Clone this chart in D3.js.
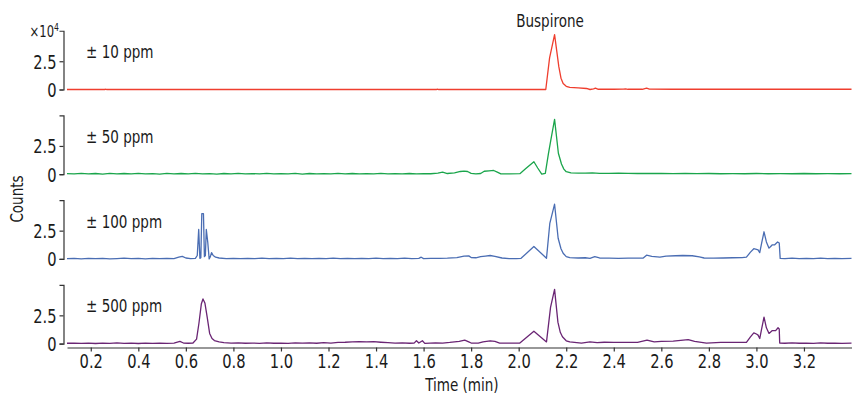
<!DOCTYPE html>
<html>
<head>
<meta charset="utf-8">
<script src="https://cdn.jsdelivr.net/npm/d3@7"></script>
<style>
  body { margin: 0; background: #fff; }
  svg text { font-family: "Liberation Sans Narrow", "DejaVu Sans Condensed", "Roboto", sans-serif; font-stretch: condensed; fill: #1a1a1a; }
  /* squeeze glyphs horizontally to mimic the condensed face of the original */
  svg text.cz { transform-box: fill-box; transform: scaleX(0.86); }
  svg text.cz.start { transform-origin: 0% 50%; }
  svg text.cz.middle { transform-origin: 50% 50%; }
  svg text.cz.end { transform-origin: 100% 50%; }
</style>
</head>
<body>
<svg id="canvas" width="852" height="394"></svg>
<script>
// [time (min), counts x10^4]
const ppm10 = [
  [0.10,0],[0.26,0],[0.262,0.03],[0.266,0],[1.655,0],[1.658,0.03],[1.662,0],[2.114,0],
  [2.13,2.8],[2.151,4.85],[2.169,2.0],[2.178,1.0],[2.187,0.53],[2.20,0.28],[2.215,0.18],
  [2.25,0.14],[2.285,0.09],[2.30,0.0],[2.315,0.06],[2.323,0.12],[2.335,0.02],[2.40,0.02],
  [2.44,0.03],[2.45,0.06],[2.46,0.02],[2.52,0.02],[2.538,0.12],[2.55,0.03],[2.65,0.02],[3.40,0.02]
];

const ppm50 = [
  [0.10,0.05],[0.13,0.02],[0.16,0.08],[0.19,0.03],[0.22,0.06],[0.25,0.01],[0.28,0.07],[0.31,0.03],
  [0.34,0.06],[0.37,0.02],[0.40,0.08],[0.43,0.03],[0.46,0.05],[0.49,0.01],[0.52,0.07],[0.55,0.03],
  [0.58,0.06],[0.61,0.02],[0.64,0.07],[0.67,0.03],[0.70,0.05],[0.73,0.01],[0.76,0.06],[0.79,0.03],
  [0.82,0.07],[0.85,0.02],[0.88,0.05],[0.91,0.03],[0.94,0.08],[0.97,0.02],[1.00,0.05],[1.03,0.03],
  [1.06,0.07],[1.09,0.01],[1.12,0.06],[1.15,0.03],[1.18,0.05],[1.21,0.02],[1.24,0.07],[1.27,0.03],
  [1.30,0.06],[1.33,0.02],[1.36,0.05],[1.39,0.03],[1.42,0.07],[1.45,0.02],[1.48,0.05],[1.51,0.03],
  [1.54,0.06],[1.57,0.02],[1.60,0.05],[1.63,0.04],[1.66,0.10],[1.68,0.18],[1.70,0.06],[1.73,0.12],
  [1.755,0.24],[1.77,0.28],[1.785,0.24],[1.80,0.08],[1.82,0.02],[1.84,0.06],[1.855,0.26],[1.875,0.30],
  [1.895,0.33],[1.91,0.18],[1.925,0.03],[1.96,0.02],[2.005,0.05],[2.03,0.5],[2.064,1.1],[2.08,0.55],
  [2.097,0.0],[2.112,0.08],[2.125,1.8],[2.135,3.0],[2.151,4.85],[2.167,1.85],[2.18,0.9],[2.19,0.45],
  [2.20,0.22],[2.22,0.12],[2.25,0.10],[2.28,0.09],[2.31,0.12],[2.34,0.08],[2.38,0.07],[2.42,0.10],
  [2.46,0.08],[2.50,0.06],[2.55,0.08],[2.60,0.06],[2.65,0.05],[2.70,0.07],[2.75,0.05],[2.80,0.06],
  [2.85,0.04],[2.90,0.05],[2.95,0.04],[3.00,0.06],[3.05,0.04],[3.10,0.05],[3.15,0.04],[3.20,0.06],
  [3.25,0.04],[3.30,0.05],[3.35,0.04],[3.40,0.05]
];

const ppm100 = [
  [0.10,0.02],[0.13,0.05],[0.16,0.01],[0.19,0.04],[0.22,0.02],[0.25,0.05],[0.28,0.01],[0.31,0.03],
  [0.34,0.06],[0.37,0.02],[0.40,0.04],[0.43,0.01],[0.46,0.04],[0.49,0.02],[0.52,0.05],[0.55,0.03],
  [0.57,0.15],[0.585,0.22],[0.60,0.08],[0.62,0.03],[0.64,0.04],[0.648,0.3],[0.654,2.6],[0.659,0.05],
  [0.663,0.1],[0.667,4.0],[0.674,4.0],[0.678,0.2],[0.682,0.3],[0.686,2.6],[0.692,1.5],[0.698,0.0],
  [0.703,0.2],[0.708,0.55],[0.715,0.3],[0.725,0.15],[0.74,0.08],[0.77,0.03],[0.80,0.05],[0.83,0.02],
  [0.86,0.05],[0.89,0.03],[0.92,0.06],[0.95,0.02],[0.98,0.04],[1.01,0.03],[1.04,0.06],[1.07,0.02],
  [1.10,0.05],[1.13,0.03],[1.16,0.05],[1.19,0.02],[1.22,0.06],[1.25,0.03],[1.28,0.05],[1.31,0.02],
  [1.34,0.05],[1.37,0.03],[1.40,0.06],[1.43,0.02],[1.46,0.04],[1.49,0.03],[1.52,0.06],[1.55,0.02],
  [1.58,0.05],[1.59,0.15],[1.60,0.03],[1.63,0.05],[1.67,0.04],[1.70,0.06],[1.74,0.12],[1.77,0.25],
  [1.79,0.27],[1.80,0.12],[1.82,0.10],[1.84,0.20],[1.86,0.25],[1.88,0.30],[1.90,0.22],[1.93,0.08],
  [1.96,0.02],[1.99,0.02],[2.01,0.05],[2.064,1.1],[2.117,0.06],[2.131,3.15],[2.151,4.84],[2.166,1.83],
  [2.178,0.9],[2.187,0.5],[2.20,0.2],[2.215,0.12],[2.25,0.08],[2.28,0.10],[2.30,0.05],[2.32,0.2],
  [2.34,0.08],[2.38,0.06],[2.42,0.05],[2.46,0.06],[2.50,0.06],[2.524,0.07],[2.538,0.33],[2.56,0.22],
  [2.594,0.15],[2.62,0.25],[2.66,0.28],[2.69,0.30],[2.73,0.28],[2.76,0.18],[2.78,0.08],[2.82,0.07],
  [2.86,0.08],[2.90,0.10],[2.94,0.12],[2.958,0.15],[2.975,0.6],[2.989,0.9],[3.0,0.85],[3.007,0.8],
  [3.014,0.55],[3.022,1.4],[3.032,2.4],[3.042,1.5],[3.053,0.95],[3.06,1.1],[3.067,1.25],[3.077,1.25],
  [3.089,1.5],[3.096,1.4],[3.10,0.05],[3.12,0.03],[3.15,0.06],[3.18,0.02],[3.21,0.05],[3.24,0.03],
  [3.27,0.06],[3.30,0.02],[3.33,0.05],[3.36,0.03],[3.40,0.04]
];

const ppm500 = [
  [0.10,0.03],[0.13,0.05],[0.16,0.02],[0.19,0.04],[0.22,0.01],[0.25,0.05],[0.28,0.02],[0.31,0.06],
  [0.34,0.02],[0.37,0.04],[0.40,0.01],[0.43,0.05],[0.46,0.02],[0.49,0.04],[0.52,0.02],[0.55,0.05],
  [0.575,0.2],[0.59,0.05],[0.61,0.03],[0.63,0.05],[0.645,0.4],[0.655,1.8],[0.665,3.5],[0.672,3.95],
  [0.68,3.6],[0.69,2.3],[0.70,0.9],[0.71,0.45],[0.72,0.27],[0.74,0.15],[0.76,0.08],[0.79,0.04],
  [0.82,0.06],[0.85,0.03],[0.88,0.05],[0.91,0.02],[0.94,0.06],[0.97,0.03],[1.00,0.05],[1.03,0.02],
  [1.06,0.06],[1.09,0.04],[1.12,0.07],[1.15,0.03],[1.18,0.08],[1.21,0.05],[1.24,0.10],[1.27,0.12],
  [1.30,0.16],[1.33,0.18],[1.36,0.15],[1.39,0.17],[1.42,0.12],[1.45,0.08],[1.48,0.05],[1.51,0.06],
  [1.54,0.03],[1.56,0.04],[1.57,0.25],[1.58,0.05],[1.595,0.25],[1.605,0.02],[1.65,0.06],[1.68,0.04],
  [1.71,0.10],[1.75,0.2],[1.773,0.3],[1.79,0.15],[1.80,0.05],[1.83,0.04],[1.85,0.15],[1.88,0.25],
  [1.90,0.2],[1.92,0.05],[1.96,0.04],[2.005,0.05],[2.064,1.1],[2.117,0.15],[2.134,3.2],[2.151,4.8],
  [2.165,1.9],[2.175,1.0],[2.184,0.6],[2.20,0.25],[2.215,0.15],[2.264,0.05],[2.30,0.15],[2.33,0.08],
  [2.36,0.12],[2.40,0.1],[2.45,0.1],[2.50,0.1],[2.54,0.3],[2.57,0.15],[2.60,0.2],[2.65,0.22],
  [2.713,0.35],[2.74,0.2],[2.79,0.05],[2.85,0.1],[2.92,0.1],[2.958,0.1],[2.975,0.6],[2.989,0.95],
  [3.0,0.85],[3.007,0.75],[3.014,0.45],[3.022,1.3],[3.032,2.35],[3.042,1.4],[3.053,0.9],[3.067,1.15],
  [3.081,1.15],[3.091,1.4],[3.096,1.3],[3.098,0.05],[3.12,0.03],[3.15,0.06],[3.18,0.03],[3.21,0.05],
  [3.24,0.02],[3.27,0.06],[3.30,0.03],[3.33,0.05],[3.36,0.02],[3.40,0.04]
];

const panelLabels = ["\u00b1 10 ppm", "\u00b1 50 ppm", "\u00b1 100 ppm", "\u00b1 500 ppm"];
const panelColors = ["#ef3e2e", "#1aa54b", "#4a6db3", "#6a2574"];
const yTicks = [0, 2.5];
const xTicks = [0.2, 0.4, 0.6, 0.8, 1.0, 1.2, 1.4, 1.6, 1.8, 2.0, 2.2, 2.4, 2.6, 2.8, 3.0, 3.2];

const series = [ppm10, ppm50, ppm100, ppm500];

const svg = d3.select("svg#canvas");

const x = d3.scaleLinear().domain([0.1, 3.4]).range([67, 851.5]);

const firstBase = 89.5;
const panelStep = 84.7;
const unitPx = 11.3;
const yMax = 5.2;
const axisX = 63.5;

series.forEach((data, i) => {
  const base = firstBase + i * panelStep;
  const y = d3.scaleLinear().domain([0, yMax]).range([base, base - yMax * unitPx]);

  const g = svg.append("g").attr("class", "panel");

  // y axis
  const yAxis = g.append("g")
    .attr("transform", `translate(${axisX},0)`)
    .call(d3.axisLeft(y).tickValues(yTicks).tickSize(4).tickSizeOuter(4)
      .tickFormat((d) => (d === 0 ? "0" : "2.5")));
  yAxis.select(".domain").attr("stroke", "#333").attr("stroke-width", 1.2);
  yAxis.selectAll(".tick line").attr("stroke", "#333").attr("stroke-width", 1.2);
  yAxis.selectAll(".tick text")
    .attr("class", "cz end")
    .attr("font-size", 19).attr("x", -7).attr("dy", "0.36em");

  // trace
  const line = d3.line().x((d) => x(d[0])).y((d) => y(d[1]));
  g.append("path")
    .datum(data)
    .attr("fill", "none")
    .attr("stroke", panelColors[i])
    .attr("stroke-width", 1.3)
    .attr("stroke-linejoin", "round")
    .attr("d", line);

  g.append("text")
    .attr("class", "cz start")
    .attr("x", 86)
    .attr("y", y(2.5) - 3)
    .attr("font-size", 17.5)
    .text(panelLabels[i]);
});

// x axis under the last panel
const xAxis = svg.append("g")
  .attr("transform", "translate(0,347.5)")
  .call(d3.axisBottom(x).tickValues(xTicks).tickSize(4).tickSizeOuter(0)
    .tickFormat(d3.format(".1f")));
xAxis.select(".domain").attr("stroke", "#333").attr("stroke-width", 1.2);
xAxis.selectAll(".tick line").attr("stroke", "#333").attr("stroke-width", 1.2);
xAxis.selectAll(".tick text").attr("class", "cz middle").attr("font-size", 19).attr("y", 7);

// multiplier on the top axis
const mult = svg.append("text").attr("class", "cz end")
  .attr("x", 59).attr("y", 37).attr("text-anchor", "end").attr("font-size", 15);
mult.append("tspan").text("\u00d710");
mult.append("tspan").attr("font-size", 10).attr("dy", -6).text("4");

svg.append("text")
  .attr("class", "cz middle")
  .attr("x", 550).attr("y", 27)
  .attr("text-anchor", "middle").attr("font-size", 17.5)
  .text("Buspirone");

svg.append("g")
  .attr("transform", "translate(23,199) rotate(-90)")
  .append("text")
  .attr("class", "cz middle")
  .attr("text-anchor", "middle").attr("font-size", 17.5)
  .text("Counts");

svg.append("text")
  .attr("class", "cz middle")
  .attr("x", 462).attr("y", 391)
  .attr("text-anchor", "middle").attr("font-size", 17.5)
  .text("Time (min)");
</script>
</body>
</html>
